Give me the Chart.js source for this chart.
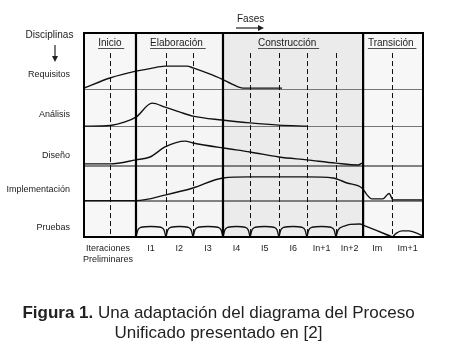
<!DOCTYPE html>
<html>
<head>
<meta charset="utf-8">
<script src="https://cdn.jsdelivr.net/npm/chart.js@4.4.0/dist/chart.umd.min.js"></script>
<style>
  body { margin: 0; background: #fff; }
  #wrap { position: relative; width: 450px; height: 353px; }
  #caption {
    position: absolute; left: 0; top: 303px; width: 437px; text-align: center;
    font: 17px "Liberation Sans", Arial, sans-serif; line-height: 20px; color: #222;
  }
</style>
</head>
<body>
<div id="wrap">
  <canvas id="chart-1" width="450" height="353"></canvas>
  <div id="caption"><b>Figura 1.</b> Una adaptación del diagrama del Proceso<br>Unificado presentado en [2]</div>
</div>
<script>
// labels
const disciplines = ['Requisitos', 'Análisis', 'Diseño', 'Implementación', 'Pruebas'];
const phases = ['Inicio', 'Elaboración', 'Construcción', 'Transición'];
const iterations = [['Iteraciones', 'Preliminares'], 'I1', 'I2', 'I3', 'I4', 'I5', 'I6', 'In+1', 'In+2', 'Im', 'Im+1'];

// effort curves (x in iteration units, y = height above the row line)
const reqX = [0, 0.92, 1.84, 2.34, 2.87, 3.65, 3.86, 4.35, 4.88, 5.24, 5.63, 7.01];
const reqY = [0.04, 0.32, 0.51, 0.58, 0.65, 0.65, 0.60, 0.46, 0.29, 0.15, 0.04, 0.04];

const anaX = [0, 0.92, 1.42, 1.84, 2.41, 2.87, 3.40, 3.86, 4.88, 5.88, 6.90, 7.89];
const anaY = [0.01, 0.03, 0.12, 0.26, 0.65, 0.54, 0.40, 0.29, 0.18, 0.10, 0.04, 0.01];

const disX = [0, 0.92, 1.84, 2.34, 2.87, 3.58, 3.86, 4.92, 5.88, 6.90, 7.89, 8.92, 9.70, 9.84];
const disY = [0.06, 0.06, 0.17, 0.25, 0.53, 0.69, 0.64, 0.50, 0.39, 0.25, 0.17, 0.08, 0.03, 0.08];

const impX = [0, 1.84, 2.90, 3.86, 4.92, 5.88, 6.90, 7.89, 8.81, 9.31, 9.84, 10.02, 10.19, 10.58, 10.80, 10.94, 12];
const impY = [0.01, 0.01, 0.17, 0.36, 0.64, 0.67, 0.67, 0.67, 0.64, 0.50, 0.36, 0.17, 0.06, 0.06, 0.21, 0.03, 0.03];

const pruX = [
  1.84, 1.91, 2.02, 2.37, 2.72, 2.83, 2.90, 2.90,
  2.90, 2.97, 3.08, 3.38, 3.68, 3.79, 3.86, 3.86,
  3.86, 3.93, 4.04, 4.39, 4.74, 4.85, 4.92, 4.92,
  4.92, 4.99, 5.10, 5.40, 5.70, 5.81, 5.88, 5.88,
  5.88, 5.95, 6.06, 6.39, 6.72, 6.83, 6.90, 6.90,
  6.90, 6.97, 7.08, 7.40, 7.71, 7.82, 7.89, 7.89,
  7.89, 7.96, 8.07, 8.41, 8.74, 8.85, 8.92, 8.92,
  8.92, 8.99, 9.24, 9.42, 9.77, 9.88, 10.92, 10.92,
  10.92, 11.05, 11.25, 11.50, 11.80, 12
];
const pruY = [
  0, 0.20, 0.27, 0.29, 0.27, 0.20, 0, null,
  0, 0.20, 0.27, 0.29, 0.27, 0.20, 0, null,
  0, 0.20, 0.27, 0.29, 0.27, 0.20, 0, null,
  0, 0.20, 0.27, 0.29, 0.27, 0.20, 0, null,
  0, 0.20, 0.27, 0.29, 0.27, 0.20, 0, null,
  0, 0.20, 0.27, 0.29, 0.27, 0.20, 0, null,
  0, 0.20, 0.27, 0.29, 0.27, 0.20, 0, null,
  0, 0.19, 0.31, 0.35, 0.36, 0.33, 0, null,
  0, 0.10, 0.17, 0.17, 0.10, 0.03
];

// layout (axis units)
const rowBase = [4.097, 3.069, 1.972, 1.0, 0];
const rowLineColor = ['#777', '#777', '#111', '#111'];
const labelY = [4.5, 3.39, 2.25, 1.31, 0.25];
const phaseEdges = [0, 1.84, 4.92, 9.88, 12];
const phaseFill = ['#f7f7f7', '#f5f5f5', '#ebebeb', '#f7f7f7'];
const phaseLabelX = [0.5, 2.34, 6.16, 10.05];
const iterLines = [0.92, 2.90, 3.86, 5.88, 6.90, 7.89, 8.92, 10.90];
const iterCenters = [0.85, 2.37, 3.37, 4.39, 5.40, 6.40, 7.41, 8.41, 9.40, 10.38, 11.46];
const dashTop = 5.11;

const FONT = '"Liberation Sans", Arial, sans-serif';

const series = [[reqX, reqY], [anaX, anaY], [disX, disY], [impX, impY], [pruX, pruY]];
const datasets = series.map(([xs, ys], k) => ({
    label: disciplines[k],
    data: xs.map((x, i) => ({ x: x, y: ys[i] === null ? null : ys[i] + rowBase[k] })),
    borderColor: '#111',
    borderWidth: 1.4,
    pointRadius: 0,
    fill: false,
    spanGaps: false,
    cubicInterpolationMode: 'monotone'
}));

const rupPlugin = {
    id: 'rup',
    beforeDatasetsDraw(chart) {
        const { ctx, chartArea: a, scales: { x, y } } = chart;
        ctx.save();
        for (let i = 0; i < phases.length; i++) {
            const x0 = x.getPixelForValue(phaseEdges[i]);
            const x1 = x.getPixelForValue(phaseEdges[i + 1]);
            ctx.fillStyle = phaseFill[i];
            ctx.fillRect(x0, a.top, x1 - x0, a.bottom - a.top);
        }
        ctx.lineWidth = 1.2;
        for (let i = 0; i < 4; i++) {
            const py = y.getPixelForValue(rowBase[i]);
            ctx.strokeStyle = rowLineColor[i];
            ctx.beginPath();
            ctx.moveTo(a.left, py);
            ctx.lineTo(a.right, py);
            ctx.stroke();
        }
        ctx.strokeStyle = '#111';
        ctx.lineWidth = 1;
        ctx.setLineDash([5, 3]);
        const top = y.getPixelForValue(dashTop);
        iterLines.forEach(v => {
            const px = Math.round(x.getPixelForValue(v)) + 0.5;
            ctx.beginPath();
            ctx.moveTo(px, top);
            ctx.lineTo(px, a.bottom);
            ctx.stroke();
        });
        ctx.restore();
    },
    afterDatasetsDraw(chart) {
        const { ctx, chartArea: a, scales: { x } } = chart;
        ctx.save();
        ctx.strokeStyle = '#000';
        ctx.lineWidth = 2.2;
        for (let i = 1; i < phaseEdges.length - 1; i++) {
            const px = x.getPixelForValue(phaseEdges[i]);
            ctx.beginPath();
            ctx.moveTo(px, a.top);
            ctx.lineTo(px, a.bottom);
            ctx.stroke();
        }
        ctx.lineWidth = 2;
        ctx.strokeRect(a.left, a.top, a.right - a.left, a.bottom - a.top);

        // phase headers, underlined
        ctx.fillStyle = '#222';
        ctx.font = '10px ' + FONT;
        ctx.textBaseline = 'middle';
        ctx.textAlign = 'left';
        ctx.lineWidth = 0.8;
        ctx.strokeStyle = '#222';
        phases.forEach((p, i) => {
            const px = x.getPixelForValue(phaseLabelX[i]);
            ctx.fillText(p, px, a.top + 10.5);
            const w = ctx.measureText(p + ' ').width;
            ctx.beginPath();
            ctx.moveTo(px, a.top + 15.5);
            ctx.lineTo(px + w, a.top + 15.5);
            ctx.stroke();
        });

        // Disciplinas with down arrow
        ctx.textAlign = 'center';
        ctx.fillText('Disciplinas', 49.5, 35);
        ctx.lineWidth = 1.2;
        ctx.beginPath();
        ctx.moveTo(55, 45);
        ctx.lineTo(55, 57);
        ctx.stroke();
        ctx.beginPath();
        ctx.moveTo(52, 56);
        ctx.lineTo(58, 56);
        ctx.lineTo(55, 62);
        ctx.closePath();
        ctx.fill();

        // Fases with right arrow
        ctx.textAlign = 'left';
        ctx.fillText('Fases', 237, 19);
        ctx.beginPath();
        ctx.moveTo(236, 28);
        ctx.lineTo(259, 28);
        ctx.stroke();
        ctx.beginPath();
        ctx.moveTo(258, 25);
        ctx.lineTo(264, 28);
        ctx.lineTo(258, 31);
        ctx.closePath();
        ctx.fill();
        ctx.restore();
    }
};

const ctx = document.getElementById('chart-1').getContext('2d');
const myChart = new Chart(ctx, {
    type: 'line',
    data: { datasets: datasets },
    plugins: [rupPlugin],
    options: {
        responsive: false,
        animation: false,
        layout: { padding: { top: 33, right: 27, left: 0, bottom: 0 } },
        plugins: { legend: { display: false }, tooltip: { enabled: false } },
        scales: {
            x: {
                type: 'linear',
                min: 0,
                max: 12,
                grid: { display: false, drawTicks: false },
                border: { display: false },
                afterBuildTicks: ax => { ax.ticks = iterCenters.map(v => ({ value: v })); },
                afterFit: ax => { ax.height = 116; },
                ticks: {
                    autoSkip: false,
                    maxRotation: 0,
                    padding: 6,
                    color: '#222',
                    font: { family: FONT, size: 9 },
                    callback: (v, i) => iterations[i]
                }
            },
            y: {
                type: 'linear',
                min: 0,
                max: 5.667,
                grid: { display: false, drawTicks: false },
                border: { display: false },
                afterBuildTicks: ax => { ax.ticks = labelY.map(v => ({ value: v })); },
                afterFit: ax => { ax.width = 84; },
                ticks: {
                    autoSkip: false,
                    padding: 14,
                    color: '#222',
                    font: { family: FONT, size: 9 },
                    callback: (v, i) => disciplines[i]
                }
            }
        }
    }
});
</script>
</body>
</html>
